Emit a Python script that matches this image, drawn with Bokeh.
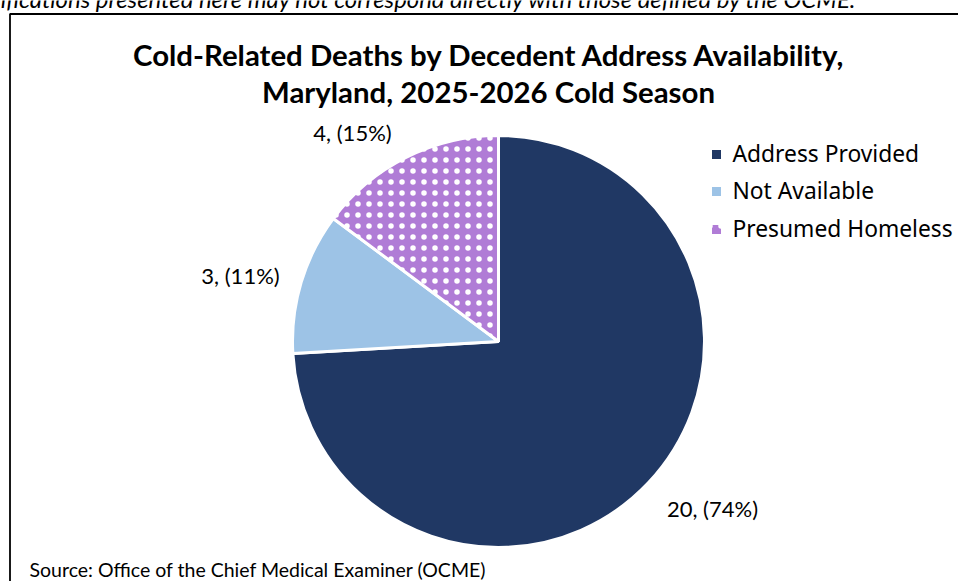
import math
from bokeh.plotting import figure
from bokeh.models import Range1d, ColumnDataSource
from bokeh.core.properties import value
from bokeh.embed import file_html
from bokeh.resources import INLINE

# ---- data ----
categories = ["Address Provided", "Not Available", "Presumed Homeless"]
deaths = [20, 3, 4]
colors = ["#203864", "#9DC3E6", "#B07CD6"]
hatches = [" ", " ", "."]
title_lines = ["Cold-Related Deaths by Decedent Address Availability,",
               "Maryland, 2025-2026 Cold Season"]
source_note = "Source: Office of the Chief Medical Examiner (OCME)"
top_note = "*Note: Classifications presented here may not correspond directly with those defined by the OCME."

# ---- layout (x = page x, y given as page y, converted) ----
W, H = 958, 581
def sy(y):  # page y -> data y
    return H - y

cx, cy, R = 498, 341, 206
label_pos = [(712, 508), (240, 275), (352, 132)]   # (center x, middle y)
legend_y = [154, 191, 229]

total = sum(deaths)
starts, ends = [], []
cum = 0
for v in deaths:
    starts.append(math.pi / 2 - cum / total * 2 * math.pi)
    cum += v
    ends.append(math.pi / 2 - cum / total * 2 * math.pi)

labels = [f"{v}, ({round(100 * v / total)}%)" for v in deaths]

p = figure(width=W, height=H, x_range=Range1d(0, W), y_range=Range1d(0, H),
           output_backend="svg", toolbar_location=None, min_border=0)
p.axis.visible = False
p.grid.visible = False
p.outline_line_color = None
p.background_fill_color = "white"
p.border_fill_color = "white"

# outer chart box
p.quad(left=[9.5], right=[1100], top=[sy(13.5)], bottom=[-100],
       fill_color=None, line_color="#000000", line_width=1.8)

# top note (clipped by page edge as in the reference)
p.text(x=[857], y=[sy(-2)], text=[top_note], text_align="right", text_baseline="middle",
       text_font=value("Lato"), text_font_style="italic", text_font_size="23.9px", text_color="#000000")

# pie
src = ColumnDataSource(dict(start=starts, end=ends, color=colors, hatch=hatches, cat=categories))
p.wedge(x=cx, y=sy(cy), radius=R, start_angle="start", end_angle="end", direction="clock",
        fill_color="color", line_color="white", line_width=3,
        hatch_pattern="hatch", hatch_color="white", hatch_scale=11, hatch_weight=1.3,
        source=src)

# data labels
p.text(x=[q[0] for q in label_pos], y=[sy(q[1]) for q in label_pos], text=labels,
       text_align="center", text_baseline="middle", text_font=value("Lato"),
       text_font_size="22px", text_color="#000000")

# title
p.text(x=[489, 488], y=[sy(54), sy(90.5)], text=title_lines, text_align="center",
       text_baseline="middle", text_font=value("Lato"), text_font_style="bold",
       text_font_size="29.4px", text_color="#000000")

# legend
lsrc = ColumnDataSource(dict(x=[716] * 3, y=[sy(v) for v in legend_y], color=colors,
                             hatch=hatches, cat=categories))
p.rect(x="x", y="y", width=9, height=9, fill_color="color", line_color=None,
       hatch_pattern="hatch", hatch_color="white", hatch_scale=11, hatch_weight=1.3, source=lsrc)
p.text(x=[732] * 3, y=[sy(v - 1) for v in legend_y], text=categories, text_align="left",
       text_baseline="middle", text_font=value("Noto Sans"), text_font_size="22.8px",
       text_color="#000000")

# source
p.text(x=[29], y=[sy(568.5)], text=[source_note], text_align="left", text_baseline="middle",
       text_font=value("Lato"), text_font_size="19.5px", text_color="#000000")

open("out.html", "w").write(file_html(p, INLINE))
